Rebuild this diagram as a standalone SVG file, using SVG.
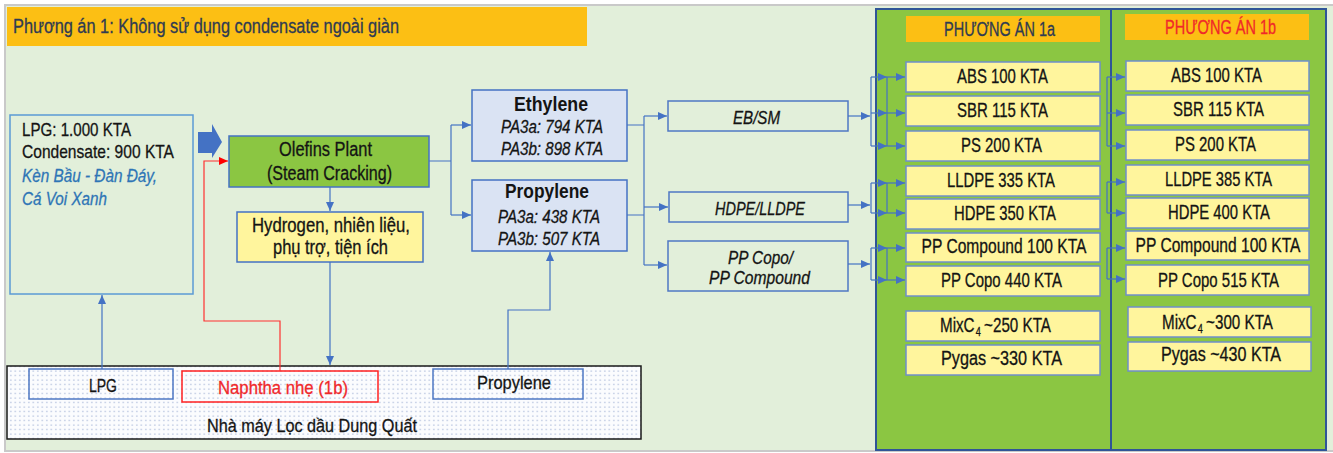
<svg xmlns="http://www.w3.org/2000/svg" width="1333" height="453" viewBox="0 0 1333 453">
<style>
text{font-family:"Liberation Sans",Arial,sans-serif;font-size:20px;fill:#141414;stroke:#141414;stroke-width:0.3}
.s18{font-size:19px}
.s17{font-size:18px}
.it{font-style:italic}
.b{font-weight:bold;stroke-width:0}
.navy{fill:#2F3B52;stroke:#2F3B52}
.red{fill:#F0282A;stroke:#F0282A}
.blue{fill:#2E75B6;stroke:#2E75B6}
.item{fill:#FFF59D;stroke:#6F8FCB;stroke-width:1.5}
.bx{fill:none;stroke:#4F78C4;stroke-width:1.5}
.con{fill:none;stroke:#4472C4;stroke-width:1.2}
.arr{marker-end:url(#ah)}
</style>
<defs>
<marker id="ah" markerUnits="userSpaceOnUse" markerWidth="10" markerHeight="9" refX="9" refY="4" orient="auto"><path d="M0,0 L9,4 L0,8 z" fill="#4472C4"/></marker>
<marker id="ahr" markerUnits="userSpaceOnUse" markerWidth="10" markerHeight="9" refX="9" refY="4" orient="auto"><path d="M0,0 L9,4 L0,8 z" fill="#FF0000"/></marker>
<pattern id="dots" width="4.5" height="4.5" patternUnits="userSpaceOnUse"><rect width="4.5" height="4.5" fill="#FBFCFE"/><rect x="1" y="1.5" width="1.6" height="1.1" fill="#B2C0DC"/></pattern>
</defs>
<rect x="0" y="0" width="1333" height="453" fill="#FFFFFF"/>
<rect x="5" y="5" width="1330" height="446" fill="#E2EFDA" stroke="#C9C9C9" stroke-width="2"/>
<g id="title">
<rect x="7" y="7" width="580" height="39" fill="#FCBF14"/>
<text class="navy" x="13" y="33" textLength="386" lengthAdjust="spacingAndGlyphs">Phương án 1: Không sử dụng condensate ngoài giàn</text>
</g>
<g id="panel-1a">
<rect x="876" y="9" width="235" height="441" fill="#8BC642" stroke="#2F5597" stroke-width="2"/>
<rect x="906" y="16" width="194" height="26" fill="#FCBF14"/>
<text class="navy" x="944" y="36" textLength="111" lengthAdjust="spacingAndGlyphs">PHƯƠNG ÁN 1a</text>
</g>
<g id="panel-1b">
<rect x="1111" y="9" width="215" height="441" fill="#8BC642" stroke="#2F5597" stroke-width="2"/>
<rect x="1125" y="14" width="184" height="26" fill="#FCBF14"/>
<text class="red" x="1165" y="34" textLength="111" lengthAdjust="spacingAndGlyphs">PHƯƠNG ÁN 1b</text>
</g>
<g id="source">
<rect x="10" y="115" width="183" height="179" fill="none" stroke="#5B9BD5" stroke-width="1.5"/>
<text class="s18" x="22" y="136" textLength="109" lengthAdjust="spacingAndGlyphs">LPG: 1.000 KTA</text>
<text class="s18" x="22" y="158" textLength="152" lengthAdjust="spacingAndGlyphs">Condensate: 900 KTA</text>
<text class="s18 it blue" x="22" y="182" textLength="135" lengthAdjust="spacingAndGlyphs">Kèn Bầu - Đàn Đáy,</text>
<text class="s18 it blue" x="22" y="205" textLength="85" lengthAdjust="spacingAndGlyphs">Cá Voi Xanh</text>
</g>
<g id="block-arrow">
<polygon points="198,132 212,132 212,124 222,142 212,158 212,153 198,153" fill="#4472C4"/>
</g>
<g id="olefins">
<rect x="229" y="136" width="200" height="51" fill="#8BC642" stroke="#4472C4" stroke-width="1.5"/>
<text x="279" y="156" textLength="93" lengthAdjust="spacingAndGlyphs">Olefins Plant</text>
<text x="267" y="180" textLength="125" lengthAdjust="spacingAndGlyphs">(Steam Cracking)</text>
</g>
<g id="hydrogen">
<rect x="237" y="212" width="186" height="50" fill="#FFF59D" stroke="#4472C4" stroke-width="1.5"/>
<text x="252" y="232" textLength="158" lengthAdjust="spacingAndGlyphs">Hydrogen, nhiên liệu,</text>
<text x="273" y="254" textLength="115" lengthAdjust="spacingAndGlyphs">phụ trợ, tiện ích</text>
</g>
<g id="ethylene">
<rect x="472" y="90" width="155" height="71" fill="#DAE3F3" stroke="#4472C4" stroke-width="1.5"/>
<text class="b" x="514" y="111" textLength="74" lengthAdjust="spacingAndGlyphs">Ethylene</text>
<text class="s18 it" x="501" y="133" textLength="102" lengthAdjust="spacingAndGlyphs">PA3a: 794 KTA</text>
<text class="s18 it" x="501" y="155" textLength="102" lengthAdjust="spacingAndGlyphs">PA3b: 898 KTA</text>
</g>
<g id="propylene">
<rect x="472" y="180" width="155" height="71" fill="#DAE3F3" stroke="#4472C4" stroke-width="1.5"/>
<text class="b" x="505" y="198" textLength="84" lengthAdjust="spacingAndGlyphs">Propylene</text>
<text class="s18 it" x="498" y="223" textLength="102" lengthAdjust="spacingAndGlyphs">PA3a: 438 KTA</text>
<text class="s18 it" x="498" y="245" textLength="102" lengthAdjust="spacingAndGlyphs">PA3b: 507 KTA</text>
</g>
<g id="ebsm">
<rect class="bx" x="668" y="101" width="180" height="30"/>
<text class="s18 it" x="733" y="124" textLength="47" lengthAdjust="spacingAndGlyphs">EB/SM</text>
</g>
<g id="hdpe-lldpe">
<rect class="bx" x="669" y="192" width="179" height="30"/>
<text class="s18 it" x="715" y="215" textLength="90" lengthAdjust="spacingAndGlyphs">HDPE/LLDPE</text>
</g>
<g id="pp">
<rect class="bx" x="668" y="241" width="180" height="50"/>
<text class="s17 it" x="728" y="264" textLength="65" lengthAdjust="spacingAndGlyphs">PP Copo/</text>
<text class="s17 it" x="709" y="284" textLength="101" lengthAdjust="spacingAndGlyphs">PP Compound</text>
</g>
<g id="refinery">
<rect x="7" y="366" width="634" height="73" fill="url(#dots)" stroke="#1A1A1A" stroke-width="1.5"/>
<text class="s18" x="207" y="432" textLength="210" lengthAdjust="spacingAndGlyphs">Nhà máy Lọc dầu Dung Quất</text>
</g>
<g id="lpg-out">
<rect class="bx" x="29" y="369" width="144" height="30"/>
<text class="s18" x="89" y="392" textLength="28" lengthAdjust="spacingAndGlyphs">LPG</text>
</g>
<g id="naphtha-out">
<rect x="182" y="371" width="196" height="31" fill="none" stroke="#FF2020" stroke-width="1.5"/>
<text class="s18 red" x="218" y="394" textLength="130" lengthAdjust="spacingAndGlyphs">Naphtha nhẹ (1b)</text>
</g>
<g id="propylene-out">
<rect class="bx" x="433" y="369" width="150" height="30"/>
<text class="s18" x="477" y="389" textLength="74" lengthAdjust="spacingAndGlyphs">Propylene</text>
</g>
<g id="items-1a">
<rect class="item" x="906" y="62" width="194" height="30"/><text x="957" y="83" textLength="91" lengthAdjust="spacingAndGlyphs">ABS 100 KTA</text>
<rect class="item" x="906" y="96" width="194" height="30"/><text x="957" y="117" textLength="91" lengthAdjust="spacingAndGlyphs">SBR 115 KTA</text>
<rect class="item" x="906" y="131" width="194" height="30"/><text x="961" y="152" textLength="81" lengthAdjust="spacingAndGlyphs">PS 200 KTA</text>
<rect class="item" x="906" y="166" width="194" height="30"/><text x="947" y="187" textLength="108" lengthAdjust="spacingAndGlyphs">LLDPE 335 KTA</text>
<rect class="item" x="906" y="199" width="194" height="30"/><text x="954" y="220" textLength="102" lengthAdjust="spacingAndGlyphs">HDPE 350 KTA</text>
<rect class="item" x="906" y="233" width="194" height="29"/><text transform="translate(1004,253) scale(0.78,1)" x="0" y="0" text-anchor="middle">PP Compound 100 KTA</text>
<rect class="item" x="906" y="266" width="194" height="30"/><text x="941" y="287" textLength="121" lengthAdjust="spacingAndGlyphs">PP Copo 440 KTA</text>
<rect class="item" x="906" y="311" width="194" height="30"/>
<text transform="translate(940,332) scale(0.76,1)" x="0" y="0">MixC<tspan x="47" y="4" font-size="12">4</tspan><tspan x="58" y="0">~250 KTA</tspan></text>
<rect class="item" x="906" y="345" width="194" height="30"/><text x="941" y="365" textLength="121" lengthAdjust="spacingAndGlyphs">Pygas ~330 KTA</text>
</g>
<g id="items-1b">
<rect class="item" x="1126" y="61" width="183" height="30"/><text x="1171" y="82" textLength="91" lengthAdjust="spacingAndGlyphs">ABS 100 KTA</text>
<rect class="item" x="1126" y="95" width="183" height="30"/><text x="1173" y="116" textLength="91" lengthAdjust="spacingAndGlyphs">SBR 115 KTA</text>
<rect class="item" x="1126" y="130" width="183" height="30"/><text x="1175" y="151" textLength="81" lengthAdjust="spacingAndGlyphs">PS 200 KTA</text>
<rect class="item" x="1126" y="165" width="183" height="30"/><text x="1165" y="186" textLength="107" lengthAdjust="spacingAndGlyphs">LLDPE 385 KTA</text>
<rect class="item" x="1126" y="198" width="183" height="30"/><text x="1168" y="219" textLength="102" lengthAdjust="spacingAndGlyphs">HDPE 400 KTA</text>
<rect class="item" x="1126" y="231" width="183" height="29"/><text transform="translate(1218,252) scale(0.78,1)" x="0" y="0" text-anchor="middle">PP Compound 100 KTA</text>
<rect class="item" x="1126" y="265" width="183" height="30"/><text x="1158" y="287" textLength="121" lengthAdjust="spacingAndGlyphs">PP Copo 515 KTA</text>
<rect class="item" x="1128" y="307" width="183" height="30"/>
<text transform="translate(1162,329) scale(0.76,1)" x="0" y="0">MixC<tspan x="47" y="4" font-size="12">4</tspan><tspan x="58" y="0">~300 KTA</tspan></text>
<rect class="item" x="1128" y="342" width="183" height="29"/><text x="1161" y="361" textLength="120" lengthAdjust="spacingAndGlyphs">Pygas ~430 KTA</text>
</g>
<g id="connectors">
<path class="con arr" d="M102,369 V295"/>
<path d="M280,371 V321 H204 V161 H228" fill="none" stroke="#FF3030" stroke-width="1.2" marker-end="url(#ahr)"/>
<path class="con arr" d="M330,187 V211"/>
<path class="con arr" d="M330,262 V365"/>
<path class="con arr" d="M508,369 V310 H550 V252"/>
<path class="con" d="M429,161 H451 M451,125 V215"/>
<path class="con arr" d="M451,125 H471"/>
<path class="con arr" d="M451,215 H471"/>
<path class="con" d="M627,125 H644 M627,215 H644 M644,116 V265"/>
<path class="con arr" d="M644,116 H667"/>
<path class="con arr" d="M644,207 H668"/>
<path class="con arr" d="M644,265 H667"/>
<path class="con arr" d="M848,116 H870"/>
<path class="con" d="M871,77 V146 M887,77 V146"/>
<path class="con arr" d="M871,77 H887"/><path class="con arr" d="M871,113 H887"/><path class="con arr" d="M871,146 H887"/>
<path class="con arr" d="M887,77 H905"/><path class="con arr" d="M887,113 H905"/><path class="con arr" d="M887,146 H905"/>
<path class="con arr" d="M848,205 H870"/>
<path class="con" d="M871,183 V213 M887,183 V213"/>
<path class="con arr" d="M871,183 H887"/><path class="con arr" d="M871,213 H887"/>
<path class="con arr" d="M887,183 H905"/><path class="con arr" d="M887,213 H905"/>
<path class="con arr" d="M848,264 H870"/>
<path class="con" d="M871,248 V280 M887,248 V280"/>
<path class="con arr" d="M871,248 H887"/><path class="con arr" d="M871,280 H887"/>
<path class="con arr" d="M887,248 H905"/><path class="con arr" d="M887,280 H905"/>
<path class="con" d="M1107,77 V146 M1107,182 V213 M1107,248 V279"/>
<path class="con arr" d="M1107,77 H1125"/><path class="con arr" d="M1107,113 H1125"/><path class="con arr" d="M1107,146 H1125"/>
<path class="con arr" d="M1107,182 H1125"/><path class="con arr" d="M1107,213 H1125"/>
<path class="con arr" d="M1107,248 H1125"/><path class="con arr" d="M1107,279 H1125"/>
</g>
</svg>
